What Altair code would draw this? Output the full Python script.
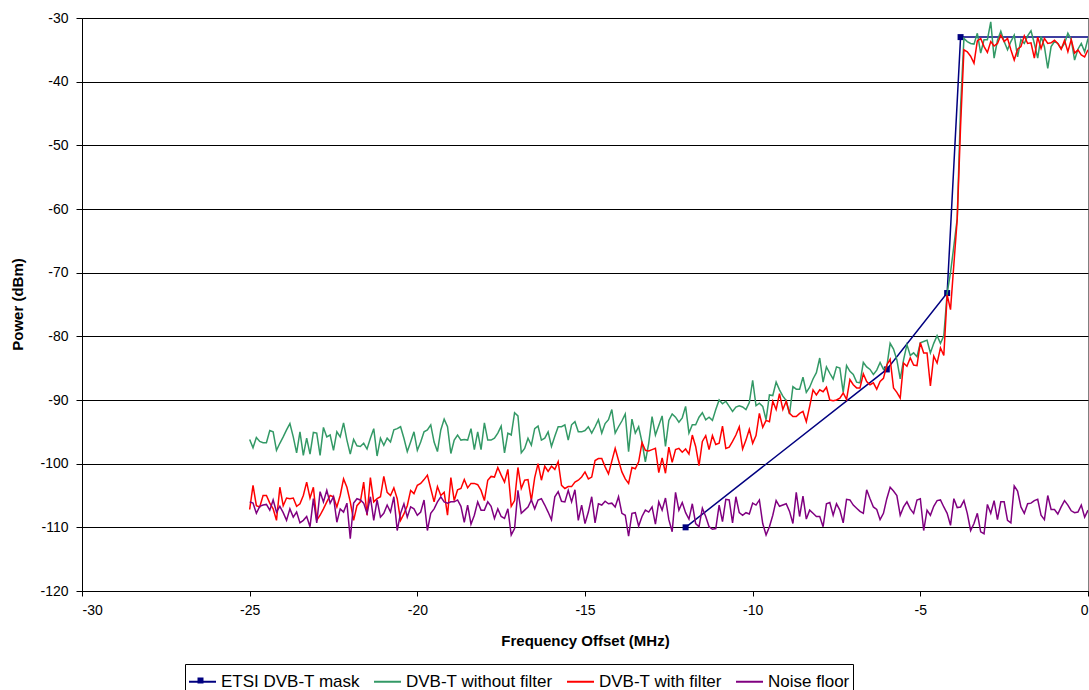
import altair as alt
import pandas as pd

# Frequency grid of the measured sweeps (MHz), -25 .. 0 in 0.1 MHz steps
freq = [round(-25 + 0.1 * i, 1) for i in range(251)]

without_filter = [
    -96.2, -97.5, -95.9, -96.5, -96.7, -96.7, -94.8, -95.0, -97.9, -96.8,
    -95.8, -94.7, -93.7, -95.8, -98.3, -95.0, -98.7, -96.0, -98.5, -95.1,
    -95.2, -98.7, -94.3, -95.8, -95.5, -97.9, -95.0, -95.8, -93.6, -96.3,
    -98.5, -96.2, -97.2, -97.3, -96.8, -97.7, -96.0, -94.5, -98.8, -96.0,
    -97.1, -96.0, -96.6, -94.7, -94.5, -94.2, -96.0, -98.1, -96.6, -95.0,
    -97.9, -96.6, -95.0, -94.7, -93.9, -96.6, -98.1, -94.7, -93.0, -94.2,
    -98.4,
    -96.3, -95.5, -96.3, -96.2, -96.3, -94.5, -97.8, -95.0, -97.8,
    -93.6, -96.3, -96.3, -96.0, -95.2, -94.1, -98.3, -95.2, -95.5, -92.0,
    -92.5, -98.3, -97.6, -96.0, -97.1, -94.5, -94.1, -96.3, -96.0, -95.0,
    -97.3, -95.7, -94.2, -94.2, -93.9, -96.3, -93.9, -93.4, -95.0, -95.0,
    -94.8, -94.2, -95.2, -94.2, -93.1, -95.2, -93.7, -93.1, -91.5, -95.2,
    -94.2, -93.3, -92.2, -98.1, -93.0, -95.2, -94.2, -96.6, -99.7, -96.8,
    -92.6, -95.5, -94.0,
    -92.5, -97.3, -93.2, -92.2, -92.7, -93.5, -92.8,
    -91.0, -95.2, -93.9, -93.9, -92.7, -92.0, -93.1, -92.7, -93.2, -91.5,
    -90.0, -90.6, -90.2, -91.0, -91.8, -91.1, -90.9, -91.1, -91.5, -90.4,
    -86.9, -90.9, -90.5, -91.0, -93.1, -89.2, -89.3, -87.2, -88.4, -89.4,
    -90.1, -92.2, -87.9, -88.3, -88.3, -86.4, -88.8, -88.0, -86.7, -85.7,
    -83.4, -87.2, -84.8, -85.8, -86.7, -84.8, -85.0, -88.8, -84.6, -85.5,
    -86.0, -87.2, -87.3, -84.1, -84.8, -85.2,
    -86.0, -85.3, -84.1, -85.2, -84.8, -81.1, -82.0, -83.7, -86.7, -83.7,
    -81.3, -83.0, -82.6, -83.2, -81.0, -80.8, -80.6, -82.6, -81.1, -79.9,
    -81.1, -79.9,
    -73.2, -70.0, -65.8, -61.5, -44.0,
    -33.2, -33.7, -34.0, -34.1, -32.4, -35.5, -33.4, -33.4, -30.6, -36.3,
    -33.5, -32.1, -33.7, -35.0, -33.7, -32.7, -36.1, -33.4, -34.0, -32.8,
    -32.0, -34.0, -36.3, -32.9, -34.5, -37.9, -34.5, -33.7, -34.0, -34.8,
    -34.0, -32.4, -33.4, -36.6, -34.9, -34.0, -35.3, -33.2,
]

with_filter = [
    -107.2, -103.4, -106.6, -106.8, -105.0, -105.0, -106.2, -107.1, -108.9, -103.7,
    -106.6, -105.4, -105.5, -105.4, -106.7, -106.3, -105.0, -102.9, -105.4, -103.7,
    -108.9, -108.1, -107.1, -106.0, -105.0, -105.2, -106.8, -105.0, -102.4, -103.7,
    -106.0, -108.9, -106.6, -106.0, -102.9, -108.1, -102.2, -106.0, -105.5, -105.2,
    -102.0, -104.5, -105.0, -103.8, -105.5, -108.9, -107.9, -106.6, -104.2, -104.7,
    -103.4, -103.1, -102.5, -101.8, -103.9, -106.0, -103.6, -105.0, -104.5, -108.1,
    -102.2,
    -105.8, -104.1, -103.9, -102.5, -103.8, -103.1, -103.1, -103.3, -104.2,
    -105.8, -102.6, -102.0, -102.1, -100.6, -101.8, -102.9, -100.9, -106.7, -105.8,
    -100.6, -103.9, -102.6, -102.5, -105.8, -102.2, -100.0, -102.6, -100.4, -101.2,
    -100.4, -100.9, -99.7, -103.4, -103.9, -103.6, -103.6, -102.9, -102.6, -102.1,
    -101.3, -102.4, -102.1, -99.5, -99.2, -99.2, -100.5, -101.6, -99.6, -97.6,
    -99.5, -101.3, -102.4, -103.1, -100.6, -100.8, -99.7, -96.7, -97.9, -98.0,
    -97.8, -97.6,
    -101.4, -99.1, -101.5, -97.4, -99.8, -97.8, -97.6, -98.2,
    -97.7, -98.5, -95.5, -97.3, -100.3, -96.5, -95.6, -97.8, -95.6, -97.0,
    -96.8, -94.1, -97.6, -97.4, -96.5, -95.5, -94.2, -97.7, -96.3, -94.6,
    -96.8, -95.6, -92.1, -94.3, -93.2, -93.4, -90.2, -91.5, -89.0, -91.5,
    -90.2, -92.1, -92.6, -92.6, -92.1, -91.8, -93.4, -91.0, -88.4, -89.2,
    -88.4, -88.7, -88.0, -90.0, -90.1, -90.0, -89.7, -88.9, -89.9, -86.8,
    -87.6, -88.1, -88.1, -85.9,
    -87.1, -87.6, -87.3, -88.3, -87.1, -86.6, -84.5, -83.6, -88.1, -88.8,
    -89.7, -84.2, -84.7, -83.4, -84.5, -84.6, -81.0, -82.6, -82.6, -87.8,
    -83.1, -84.2, -81.8, -83.0,
    -73.5, -75.8, -68.7, -61.6, -47.0,
    -35.0, -35.3, -36.0, -37.1, -33.6, -33.2, -34.5, -35.4, -33.7, -34.4,
    -34.0, -32.7, -33.7, -33.2, -35.0, -36.6, -34.9, -34.5, -32.8, -34.0,
    -33.9, -36.3, -33.0, -34.8, -33.2, -34.0, -33.9, -33.5, -34.0, -34.9,
    -33.5, -35.3, -33.4, -35.5, -35.0, -35.8, -36.1, -35.0,
]

noise_floor = [
    -106.0, -106.2, -107.8, -106.7, -106.5, -106.4, -107.3, -105.7, -107.6, -106.7,
    -107.7, -108.9, -107.1, -108.4, -107.6, -109.3, -108.9, -108.3, -109.9, -105.5,
    -109.3, -104.4, -106.0, -104.2, -106.2, -105.2, -109.2, -107.1, -107.6, -106.2,
    -111.8, -106.2, -105.5, -105.7, -106.2, -107.8, -105.2, -108.9, -105.7, -108.4,
    -107.8, -106.5, -107.6, -105.2, -110.5, -107.8, -106.3, -108.4, -106.8, -107.1,
    -108.1, -107.6, -105.7, -110.5, -107.8, -107.1, -106.0, -105.2, -106.0, -106.2,
    -106.0,
    -106.0, -105.7, -106.7, -109.2, -106.5, -109.5, -108.1, -106.0, -107.3,
    -107.3, -106.0, -106.7, -108.6, -107.1, -108.3, -108.6, -107.1, -111.2, -110.2,
    -104.2, -107.8, -107.3, -106.8, -105.7, -107.1, -105.7, -105.5, -106.5, -107.6,
    -108.8, -105.2, -104.4, -105.9, -106.0, -104.2, -106.0, -104.1, -108.9, -106.5,
    -109.4, -107.6, -105.2, -109.3, -106.3, -106.5, -105.9, -106.3, -106.2, -106.8,
    -105.2, -107.8, -108.1, -111.4, -107.8, -107.7, -109.8, -108.3, -107.3, -107.6,
    -106.8, -109.5, -106.0,
    -107.3, -105.4, -108.8, -110.7, -104.5, -107.3, -106.1,
    -107.7, -108.7, -106.3, -109.4, -109.9, -107.0, -108.3, -109.9, -110.3, -110.2,
    -106.5, -109.1, -105.6, -105.7, -109.3, -105.2, -107.7, -108.1, -107.7, -107.9,
    -106.2, -106.5, -105.7, -109.4, -111.2, -109.9, -108.1, -105.8, -106.7, -106.5,
    -106.3, -107.5, -109.4, -104.5, -108.3, -105.1, -108.7, -107.3, -107.8, -108.3,
    -108.3, -109.9, -106.3, -106.1, -108.1, -106.3, -107.3, -109.3, -105.6, -105.7,
    -106.5, -107.0, -107.5,
    -107.8, -104.1, -105.5, -106.8, -107.2, -108.8, -107.8,
    -105.5, -103.7, -104.3, -105.0, -108.1, -106.8, -106.0, -107.1, -107.8, -105.7,
    -105.5, -110.5, -107.3, -108.1, -106.7, -105.8, -105.7, -106.8, -107.8, -109.7,
    -105.5, -106.9, -106.8, -105.8, -107.8, -110.5, -109.4, -107.8, -110.7, -111.0,
    -106.4, -107.8, -105.8, -108.8, -106.0, -106.0, -108.9, -109.3, -103.5, -104.3,
    -106.8, -107.8, -106.3, -106.2, -105.8, -105.6, -108.1, -108.8, -105.0, -107.2,
    -107.2, -107.9, -106.8, -105.8, -106.5, -107.4, -107.7, -107.6, -106.5, -108.4,
    -107.3,
]

# ETSI mask corner points (the flat top continues past the right edge)
mask_freq = [-12.0, -6.0, -4.2, -3.8, 3.8]
mask_power = [-110.0, -85.2, -73.2, -33.0, -33.0]

series_names = ["ETSI DVB-T mask", "DVB-T without filter", "DVB-T with filter", "Noise floor"]
series_colors = ["#000080", "#339966", "#FF0000", "#800080"]

rows = [{"freq": f, "power": p, "series": series_names[0], "marker": series_names[0]}
        for f, p in zip(mask_freq, mask_power)]
for name, vals in zip(series_names[1:], [without_filter, with_filter, noise_floor]):
    rows += [{"freq": f, "power": p, "series": name, "marker": ""} for f, p in zip(freq, vals)]
df = pd.DataFrame(rows)

FONT = "Liberation Sans, Arial, sans-serif"
LEG_X, LEG_Y, LEG_PAD = 103, 646, 3
LINE_LEN = 27
LINE_SYM = LINE_LEN * LINE_LEN
SQ = 6

x_enc = alt.X(
    "freq:Q",
    scale=alt.Scale(domain=[-30, 0], nice=False, zero=False),
    axis=alt.Axis(
        values=list(range(-30, 1, 5)), title="Frequency Offset (MHz)", grid=False,
        tickSize=5, labelPadding=7, titleY=49, titleBaseline="middle",
        labelExpr="toString(datum.value)",
    ),
)
y_enc = alt.Y(
    "power:Q",
    scale=alt.Scale(domain=[-120, -30], nice=False, zero=False),
    axis=alt.Axis(
        values=list(range(-120, -29, 10)), title="Power (dBm)", grid=True,
        gridColor="#000000", gridOpacity=1, gridWidth=1,
        tickSize=6, labelPadding=8, titleX=-65, titleY=286, titleAngle=-90,
        titleAlign="center", titleBaseline="middle",
        labelExpr="toString(datum.value)",
    ),
)
color_enc = alt.Color(
    "series:N",
    scale=alt.Scale(domain=series_names, range=series_colors),
    legend=alt.Legend(
        title=None, orient="none", legendX=LEG_X, legendY=LEG_Y, direction="horizontal",
        columns=4, strokeColor="#000000", fillColor="#ffffff", padding=LEG_PAD,
        symbolType="stroke", symbolSize=LINE_SYM, symbolStrokeWidth=2,
        labelFontSize=17, labelFont=FONT, labelColor="#000000", labelOffset=4,
        columnPadding=10, cornerRadius=0, zindex=1,
    ),
)
# single-entry legend that places the square marker on the mask's legend line
shape_enc = alt.Shape(
    "marker:N",
    scale=alt.Scale(domain=[series_names[0]], range=["square"]),
    legend=alt.Legend(
        title=None, orient="none",
        legendX=LEG_X + LEG_PAD + LINE_LEN / 2 - SQ / 2 - 1,
        legendY=LEG_Y + LEG_PAD + LINE_LEN / 2 - SQ / 2,
        padding=0, direction="horizontal",
        symbolType="square", symbolSize=SQ * SQ, symbolFillColor="#000080",
        symbolStrokeColor="#000080", symbolStrokeWidth=0, symbolOpacity=1,
        labelFontSize=1, labelFont=FONT, labelOpacity=0, labelOffset=0, zindex=2,
    ),
)

base = alt.Chart(df)
layers = []
mask_df = base.transform_filter(alt.datum.series == series_names[0])
layers.append(mask_df.mark_line(strokeWidth=1.5, clip=True).encode(x=x_enc, y=y_enc, color=color_enc))
layers.append(
    mask_df.mark_point(filled=True, size=36, opacity=1, color="#000080", clip=True)
    .encode(x=x_enc, y=y_enc, shape=shape_enc)
)
for name in series_names[1:]:
    layers.append(
        base.transform_filter(alt.datum.series == name)
        .mark_line(strokeWidth=1.5, clip=True)
        .encode(x=x_enc, y=y_enc, color=color_enc)
    )

chart = (
    alt.layer(*layers)
    .properties(
        width=1006, height=573,
        autosize=alt.AutoSizeParams(type="none"),
        padding={"left": 82, "top": 18, "right": 1, "bottom": 99},
        background="#ffffff",
    )
    .configure_view(stroke="#808080", strokeWidth=1)
    .configure_axis(
        labelFont=FONT, titleFont=FONT, labelFontSize=14, labelColor="#000000",
        titleFontSize=15, titleFontWeight="bold", titleColor="#000000",
        domainColor="#000000", tickColor="#000000", domainWidth=1, tickWidth=1,
    )
)

chart.save("out.html", embed_options={"renderer": "svg", "actions": False})
